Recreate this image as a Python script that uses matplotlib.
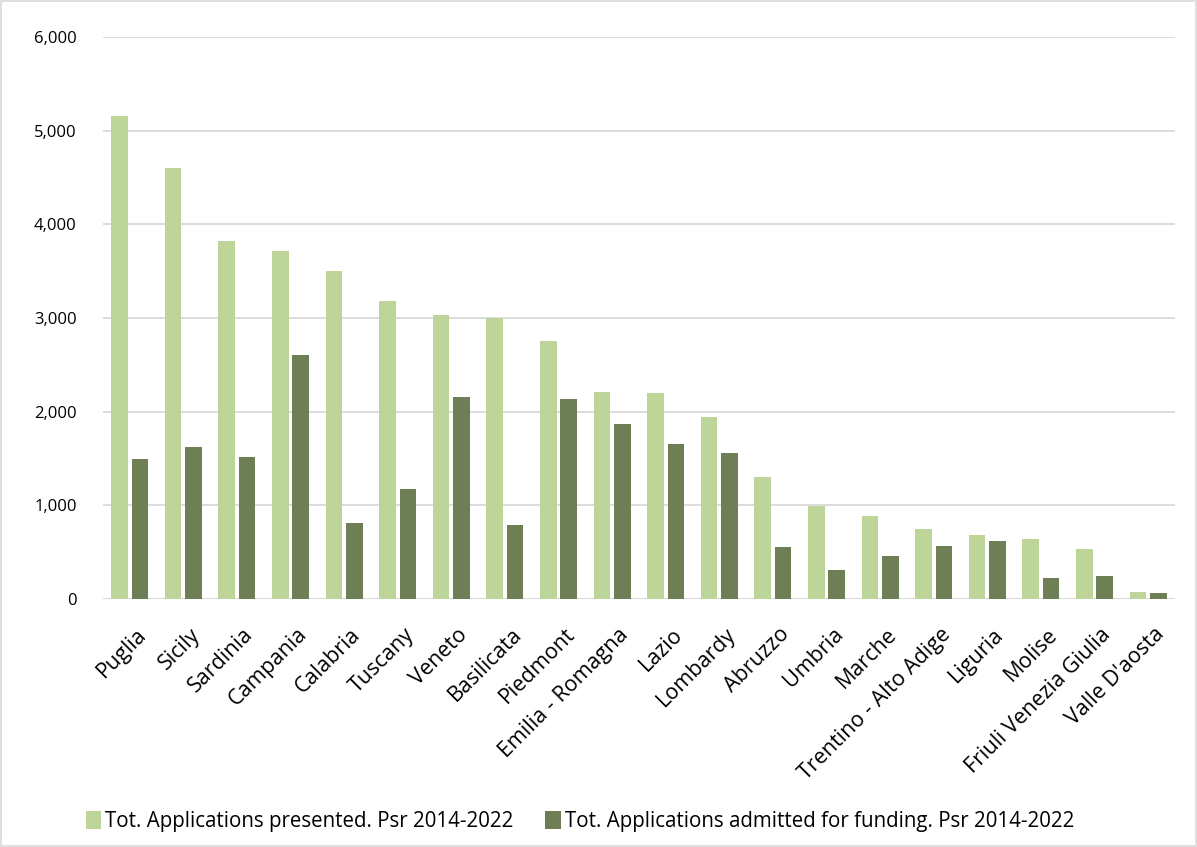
import matplotlib
matplotlib.use("Agg")
import matplotlib.pyplot as plt
from matplotlib.patches import Rectangle
from matplotlib.ticker import FuncFormatter
from matplotlib.transforms import ScaledTranslation
import numpy as np

regions = ["Puglia", "Sicily", "Sardinia", "Campania", "Calabria", "Tuscany", "Veneto",
           "Basilicata", "Piedmont", "Emilia - Romagna", "Lazio", "Lombardy", "Abruzzo",
           "Umbria", "Marche", "Trentino - Alto Adige", "Liguria", "Molise",
           "Friuli Venezia Giulia", "Valle D'aosta"]
presented = [5160, 4600, 3820, 3715, 3500, 3180, 3030, 3000, 2752, 2207,
             2200, 1943, 1307, 989, 882, 750, 682, 643, 536, 75]
admitted = [1490, 1622, 1519, 2602, 816, 1173, 2153, 791, 2139, 1866,
            1654, 1561, 554, 314, 461, 568, 618, 221, 246, 64]
series_names = ["Tot. Applications presented. Psr 2014-2022",
                "Tot. Applications admitted for funding. Psr 2014-2022"]
yticks = [0, 1000, 2000, 3000, 4000, 5000, 6000]

plt.rcParams['font.family'] = ['Open Sans', 'DejaVu Sans']

fig = plt.figure(figsize=(11.97, 8.47), dpi=100)
ax = fig.add_axes([0.086, 0.2928, 0.8956, 0.6635])

x = np.arange(len(regions))
w = 0.31
light = "#BED599"
dark = "#6E7F56"
b1 = ax.bar(x - 0.19, presented, width=w, color=light, label=series_names[0], zorder=3)
b2 = ax.bar(x + 0.19, admitted, width=w, color=dark, label=series_names[1], zorder=3)

ax.set_xlim(-0.5, len(regions) - 0.5)
ax.set_ylim(0, 6000)
ax.set_yticks(yticks)
ax.yaxis.set_major_formatter(FuncFormatter(lambda v, p: f"{int(v):,}"))
ax.grid(axis='y', color="#D9D9D9", linewidth=1.3, zorder=0)
for s in ['top', 'right', 'left', 'bottom']:
    ax.spines[s].set_visible(False)
ax.axhline(0, color="#D9D9D9", linewidth=1.3, zorder=2)
ax.tick_params(axis='y', length=0, pad=19, labelsize=12, colors="#000000")
ax.tick_params(axis='x', length=0, pad=18, labelsize=15.5)
ax.set_xticks(x)
ax.set_xticklabels(regions, rotation=45, ha='right', rotation_mode='anchor')
offset = ScaledTranslation(6 / 100, 0, fig.dpi_scale_trans)
for lab in ax.get_xticklabels():
    lab.set_transform(lab.get_transform() + offset)

fig.legend(handles=[b1, b2], loc='lower left', bbox_to_anchor=(0.056, -0.004),
           ncol=2, frameon=False, fontsize=14.8, handlelength=0.75, handleheight=1.0,
           handletextpad=0.2, columnspacing=1.55)

fig.patches.append(Rectangle((0.001, 0.001), 0.998, 0.998, transform=fig.transFigure,
                             fill=False, edgecolor="#D9D9D9", linewidth=1.2))

fig.savefig("out.png", dpi=100)
